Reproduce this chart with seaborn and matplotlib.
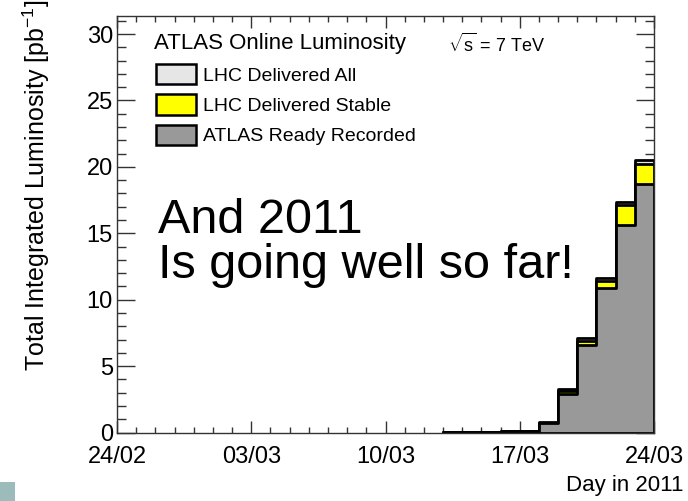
import numpy as np
import pandas as pd
import matplotlib
matplotlib.use("Agg")
import matplotlib.pyplot as plt
import seaborn as sns
from matplotlib.patches import Rectangle, Patch
from matplotlib.ticker import MultipleLocator, FixedLocator

# ---- data (days since 24/02/2011, cumulative pb^-1) ----
bin_start_days = [17, 18, 19, 20, 21, 22, 23, 24, 25, 26, 27]
delivered_all = [0.03, 0.04, 0.07, 0.12, 0.15, 0.76, 3.25, 7.08, 11.60, 17.35, 20.50]
delivered_stable = [0.03, 0.04, 0.07, 0.11, 0.14, 0.72, 3.10, 6.90, 11.40, 17.15, 20.25]
ready_recorded = [0.02, 0.03, 0.06, 0.10, 0.13, 0.68, 2.87, 6.58, 10.85, 15.60, 18.70]
tick_days = [0, 7, 14, 21, 28]
tick_labels = ["24/02", "03/03", "10/03", "17/03", "24/03"]
series_names = ["LHC Delivered All", "LHC Delivered Stable", "ATLAS Ready Recorded"]
series_colors = ["#e6e6e6", "#ffff00", "#999999"]

sns.set_style("ticks")
plt.rcParams["font.family"] = ["Liberation Sans", "DejaVu Sans"]
plt.rcParams["mathtext.fontset"] = "custom"
plt.rcParams["mathtext.rm"] = "Liberation Sans"
plt.rcParams["mathtext.it"] = "Liberation Sans"
plt.rcParams["text.color"] = "black"
plt.rcParams["xtick.labelcolor"] = "black"
plt.rcParams["ytick.labelcolor"] = "black"

W, H = 688, 501
fig = plt.figure(figsize=(W / 100, H / 100), dpi=100)
ax = fig.add_axes([117 / W, 68.5 / H, 537 / W, 417 / H])

edges = bin_start_days + [bin_start_days[-1] + 1]
centers = [d + 0.5 for d in bin_start_days]
for vals, col in zip([delivered_all, delivered_stable, ready_recorded], series_colors):
    df = pd.DataFrame({"day": centers, "lumi": vals})
    sns.histplot(data=df, x="day", weights="lumi", bins=edges, element="step",
                 fill=True, color=col, edgecolor="black", linewidth=2, alpha=1, ax=ax)

ax.set_xlim(0, 28)
ax.set_ylim(0, 31.4)
ax.set_xlabel("")
ax.set_ylabel("")
ax.xaxis.set_major_locator(FixedLocator(tick_days))
ax.set_xticklabels(tick_labels)
ax.xaxis.set_minor_locator(MultipleLocator(1))
ax.yaxis.set_major_locator(MultipleLocator(5))
ax.yaxis.set_minor_locator(MultipleLocator(1))
frame_col = "#333333"
for s in ax.spines.values():
    s.set_visible(True)
    s.set_color(frame_col)
    s.set_linewidth(1)
ax.tick_params(which="both", direction="in", top=True, right=True, color=frame_col,
               width=1, labelsize=17, labelcolor="black")
ax.tick_params(axis="x", which="major", length=8.6, pad=9.5)
ax.tick_params(axis="x", which="minor", length=4.3)
ax.tick_params(axis="y", which="major", length=13, pad=3)
ax.tick_params(axis="y", which="minor", length=6.5)

fig.text(36 / W, 1 - 185 / H, r"Total Integrated Luminosity [pb$^{-1}$]", rotation=90,
         ha="center", va="center", fontsize=18)
fig.text(684 / W, 1 - 486 / H, "Day in 2011", ha="right", va="center", fontsize=16)

fig.text(154 / W, 1 - 44 / H, "ATLAS Online Luminosity", ha="left", va="center", fontsize=16)
fig.text(448 / W, 1 - 44 / H, r"$\sqrt{s}$ = 7 TeV", ha="left", va="center", fontsize=13)

handles = [Patch(facecolor=c, edgecolor="black", linewidth=1.8) for c in series_colors]
leg = fig.legend(handles, series_names, loc="upper left", bbox_to_anchor=(156 / W, 1 - 64 / H),
                 frameon=False, fontsize=14, borderpad=0, borderaxespad=0,
                 handlelength=2.06, handleheight=1.24, handletextpad=0.36, labelspacing=0.49)

fig.text(158 / W, 1 - 233 / H, "And 2011", ha="left", va="baseline", fontsize=35)
fig.text(158 / W, 1 - 278 / H, "Is going well so far!", ha="left", va="baseline", fontsize=35)

fig.patches.append(Rectangle((0, 0), 15 / W, 19 / H, transform=fig.transFigure,
                             facecolor="#9cbcbc", edgecolor="none"))

fig.savefig("out.png", dpi=100)
